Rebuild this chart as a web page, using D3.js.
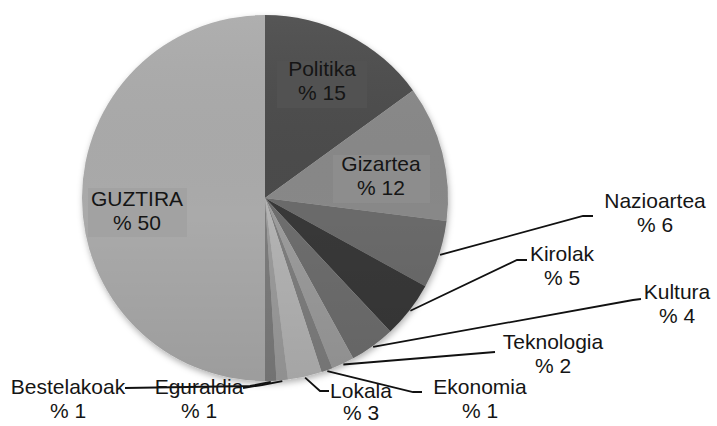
<!DOCTYPE html>
<html>
<head>
<meta charset="utf-8">
<script src="https://cdn.jsdelivr.net/npm/d3@7"></script>
<style>
  html, body { margin: 0; padding: 0; background: #fff; }
  #root { width: 717px; height: 426px; }
  text { font-family: "Liberation Sans", Arial, sans-serif; fill: #151515; }
</style>
</head>
<body>
<div id="root"></div>
<script>
// Categories and shares (%), clockwise from 12 o'clock
const categories = ["Politika", "Gizartea", "Nazioartea", "Kirolak", "Kultura",
  "Teknologia", "Ekonomia", "Lokala", "Eguraldia", "Bestelakoak", "GUZTIRA"];
const shares = [15, 12, 6, 5, 4, 2, 1, 3, 1, 1, 50];
const shareLabels = shares.map((v) => `% ${v}`);

// Slice greys
const sliceColors = ["#4b4b4b", "#888888", "#6b6b6b", "#393939", "#6d6d6d",
  "#9b9b9b", "#7e7e7e", "#b3b3b3", "#9c9c9c", "#7b7b7b", "#aaaaaa"];

// Label layout: inside labels get a box, outside labels get a leader line
const labelLayout = {
  Politika:    { inside: true, x: 322, y: 76, box: [277, 61, 90, 47], boxFill: "#525252" },
  Gizartea:    { inside: true, x: 381, y: 171, box: [333, 155, 97, 48], boxFill: "#8d8d8d" },
  GUZTIRA:     { inside: true, x: 137, y: 206, box: [88, 188, 99, 49], boxFill: "#a2a2a2" },
  Nazioartea:  { x: 655, y: 208, elbow: [583, 216], end: [593, 216] },
  Kirolak:     { x: 562, y: 261, elbow: [517, 260], end: [527, 260] },
  Kultura:     { x: 677, y: 299, elbow: [633, 300], end: [641, 299] },
  Teknologia:  { x: 553, y: 349, elbow: [495, 352], end: [495, 352] },
  Ekonomia:    { x: 480, y: 394, elbow: [413, 392], end: [422, 392] },
  Lokala:      { x: 361, y: 398, elbow: [320, 391], end: [329, 391], gap: 22 },
  Eguraldia:   { x: 199, y: 394, elbow: [262, 385], end: [243, 388] },
  Bestelakoak: { x: 68, y: 394, elbow: [250, 386], end: [125, 388] },
};

const width = 717;
const height = 426;
const cx = 265;
const cy = 198;
const radius = 183;
const fontSize = 21;
const lineGap = 24;

const data = categories.map((name, i) => ({ name, value: shares[i], label: shareLabels[i], color: sliceColors[i] }));

const svg = d3.select("#root").append("svg")
  .attr("width", width)
  .attr("height", height);

const defs = svg.append("defs");
const shadow = defs.append("filter").attr("id", "shadow")
  .attr("x", "-10%").attr("y", "-10%").attr("width", "120%").attr("height", "125%");
shadow.append("feDropShadow")
  .attr("dx", 1).attr("dy", 3).attr("stdDeviation", 3)
  .attr("flood-color", "#000").attr("flood-opacity", 0.3);

const shade = defs.append("linearGradient").attr("id", "shade")
  .attr("x1", 0).attr("y1", 0).attr("x2", 0).attr("y2", 1);
shade.append("stop").attr("offset", "0%").attr("stop-color", "#fff").attr("stop-opacity", 0.06);
shade.append("stop").attr("offset", "55%").attr("stop-color", "#000").attr("stop-opacity", 0.0);
shade.append("stop").attr("offset", "100%").attr("stop-color", "#000").attr("stop-opacity", 0.08);

const pie = d3.pie().sort(null).value((d) => d.value);
const arc = d3.arc().innerRadius(0).outerRadius(radius);
const edgeArc = d3.arc().innerRadius(radius + 1).outerRadius(radius + 1);

const arcs = pie(data);

const chart = svg.append("g").attr("transform", `translate(${cx},${cy})`);

chart.append("g").attr("filter", "url(#shadow)")
  .selectAll("path")
  .data(arcs)
  .enter()
  .append("path")
  .attr("d", arc)
  .attr("fill", (d) => d.data.color);

// subtle vertical shading over the pie
chart.append("circle")
  .attr("r", radius)
  .attr("fill", "url(#shade)");

// Inside labels (with boxes)
arcs.filter((d) => labelLayout[d.data.name].inside).forEach((d) => {
  const L = labelLayout[d.data.name];
  svg.append("rect")
    .attr("x", L.box[0]).attr("y", L.box[1])
    .attr("width", L.box[2]).attr("height", L.box[3])
    .attr("fill", L.boxFill);
});

// Leader lines for outside labels
arcs.filter((d) => !labelLayout[d.data.name].inside).forEach((d) => {
  const L = labelLayout[d.data.name];
  const [px, py] = edgeArc.centroid(d);
  const pts = [[cx + px, cy + py], L.elbow, L.end];
  svg.append("path")
    .attr("d", d3.line()(pts))
    .attr("fill", "none")
    .attr("stroke", "#111")
    .attr("stroke-width", 1.8);
});

// Label text
arcs.forEach((d) => {
  const L = labelLayout[d.data.name];
  const t = svg.append("text")
    .attr("text-anchor", "middle")
    .style("font-size", fontSize + "px");
  t.append("tspan").attr("x", L.x).attr("y", L.y).text(d.data.name);
  t.append("tspan").attr("x", L.x).attr("y", L.y + (L.gap || lineGap)).text(d.data.label);
});
</script>
</body>
</html>
